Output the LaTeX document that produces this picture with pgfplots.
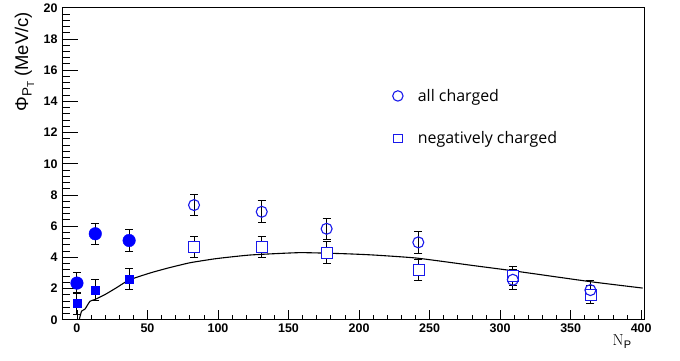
\documentclass[border=0pt]{standalone}
\usepackage{fontspec}
\setmainfont{Liberation Sans}
\setsansfont{Liberation Sans}
\newfontfamily\legfont{Open Sans}
\newfontfamily\lmr{Latin Modern Roman}
\usepackage{pgfplots}
\pgfplotsset{compat=1.18}
\definecolor{mblue}{RGB}{25,25,235}
\pgfplotsset{
  ebar/.style={forget plot, draw=none, mark=none,
    error bars/.cd, y dir=both, y explicit,
    error bar style={black, line width=1bp, solid},
    error mark options={rotate=90, mark size=4bp, black, line width=1bp}},
}
\pgfplotstableread{
x y e
83 7.35 0.7
131 6.92 0.7
177 5.83 0.67
242 4.96 0.7
309 2.56 0.65
364 1.9 0.6
}\allch
\pgfplotstableread{
x y e
83 4.68 0.68
131 4.68 0.68
177 4.29 0.7
242 3.18 0.68
309 2.82 0.62
364 1.62 0.6
}\negch
\pgfplotstableread{
x y e
0 2.35 0.7
13 5.51 0.68
37 5.08 0.7
}\allchf
\pgfplotstableread{
x y e
0 1.03 0.7
13 1.92 0.66
37 2.6 0.68
}\negchf
\begin{document}
\begin{tikzpicture}
\begin{axis}[
  name=ax,
  scale only axis,
  width=582bp, height=312bp,
  xmin=-10.6, xmax=402, ymin=0, ymax=20,
  axis line style={line width=0.9bp},
  tick pos=left, tick align=inside,
  xtick={0,50,...,400}, ytick={0,2,...,20},
  minor x tick num=4, minor y tick num=4,
  x tick style={/pgfplots/major tick length=9.5bp,/pgfplots/minor tick length=5bp, line width=0.8bp, black},
  y tick style={/pgfplots/major tick length=16bp,/pgfplots/minor tick length=8bp, line width=0.8bp, black},
  /pgf/number format/assume math mode=true,
  xticklabel={\textbf{\pgfmathprintnumber{\tick}}},
  yticklabel={\textbf{\pgfmathprintnumber{\tick}}},
  tick label style={font=\fontsize{12.5}{14}\selectfont},
  xticklabel style={yshift=-1bp},
  yticklabel style={xshift=-1bp},
  xlabel={\lmr N\raisebox{-0.45ex}{\sffamily\fontsize{11}{12}\selectfont P}},
  xlabel style={font=\fontsize{16}{18}\selectfont, at={(rel axis cs:0.962,-0.037)}, anchor=north},
  ylabel={\fontsize{18.5}{20}\selectfont Φ\raisebox{-0.35ex}{\fontsize{13.5}{15}\selectfont P\raisebox{-0.35ex}{\fontsize{10}{12}\selectfont T}} (MeV/c)},
  ylabel style={at={(rel axis cs:-0.042,0.997)}, anchor=south east},
  legend style={draw=none, fill=none, at={(axis cs:221,15.05)}, anchor=north west,
    font=\legfont\fontsize{16}{19}\selectfont, row sep=25bp,
    nodes={inner sep=2bp}},
  legend cell align=left,
  reverse legend,
]
% model curve
\addplot[black, line width=1.1bp, smooth, tension=0.3, forget plot] coordinates {
(1.6,0)(3.3,0.55)(5.7,0.68)(9.2,1.18)(12.8,1.3)(20,1.62)(28,2.05)(37,2.55)(52,3.0)(64,3.3)(80,3.65)(99,3.92)(123,4.15)(158,4.3)(190,4.23)(210,4.15)(241,3.95)(282,3.46)(309,3.14)(364,2.44)(401,2.03)};
% error bars
\addplot[ebar] table[x=x, y=y, y error=e] {\allch};
\addplot[ebar] table[x=x, y=y, y error=e] {\negch};
\addplot[ebar] table[x=x, y=y, y error=e] {\allchf};
\addplot[ebar] table[x=x, y=y, y error=e] {\negchf};
% open squares: negatively charged (outer blue square, inner white square)
\addplot[mblue, only marks, mark=square*, mark size=5.55bp, mark options={draw=none, fill=mblue},
  legend image code/.code={\path[draw=none] (-6bp,0bp) -- (18bp,0bp); \draw[mblue, fill=white, line width=1.1bp] (-4.4bp,-4.4bp) rectangle (4.4bp,4.4bp);}]
  table[x=x, y=y] {\negch};
\addlegendentry{negatively charged}
\addplot[white, only marks, mark=square*, mark size=4.45bp, mark options={draw=none, fill=white}, forget plot]
  table[x=x, y=y] {\negch};
% open circles: all charged
\addplot[mblue, only marks, mark=o, mark size=5.5bp, mark options={draw=mblue, fill=white, line width=1.1bp},
  legend image code/.code={\path[draw=none] (-6bp,0bp) -- (18bp,0bp); \draw[mblue, fill=white, line width=1.1bp] (0bp,0bp) circle[radius=5.2bp];}]
  table[x=x, y=y] {\allch};
\addlegendentry{all charged}
% filled circles
\addplot[blue, only marks, mark=*, mark size=6.3bp, mark options={fill=blue, draw=blue}, forget plot]
  table[x=x, y=y] {\allchf};
% filled squares
\addplot[blue, only marks, mark=square*, mark size=4bp, mark options={fill=blue, draw=blue}, forget plot]
  table[x=x, y=y] {\negchf};
\end{axis}
\useasboundingbox ([shift={(-62bp,-41bp)}]ax.south west) rectangle ([shift={(618bp,319bp)}]ax.south west);
\end{tikzpicture}
\end{document}
